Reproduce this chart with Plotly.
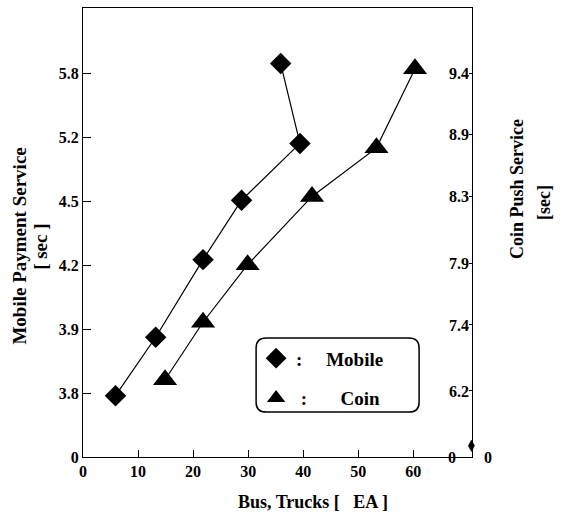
import plotly.graph_objects as go

# Data (x in EA; y as positions on the evenly spaced tick scale)
mobile_x = [5.9, 13.2, 21.8, 28.8, 39.4, 35.9]
mobile_level = [0.96, 1.875, 3.09, 4.02, 4.91, 6.16]
coin_x = [14.9, 21.8, 29.9, 41.6, 53.3, 60.3]
coin_level = [1.21, 2.11, 3.01, 4.08, 4.84, 6.08]

left_tick_pos = [0, 1, 2, 3, 4, 5, 6]
left_tick_text = ["0", "3.8", "3.9", "4.2", "4.5", "5.2", "5.8"]
right_tick_pos = [0, 1.034, 2.068, 3.024, 4.073, 5.045, 6.0]
right_tick_text = ["0", "6.2", "7.4", "7.9", "8.3", "8.9", "9.4"]
x_ticks = [0, 10, 20, 30, 40, 50, 60]

SERIF = "Liberation Serif"
NB = "\u00a0"

fig = go.Figure()
fig.add_trace(go.Scatter(
    x=mobile_x, y=mobile_level, mode="lines+markers",
    line=dict(color="black", width=1.2),
    marker=dict(symbol="diamond", size=16.5, color="black"),
    showlegend=False, yaxis="y"))
fig.add_trace(go.Scatter(
    x=coin_x, y=coin_level, mode="lines+markers",
    line=dict(color="black", width=1.2),
    marker=dict(symbol="triangle-up", size=21, color="black"),
    showlegend=False, yaxis="y2"))
# legend-only entries
fig.add_trace(go.Scatter(
    x=[None], y=[None], mode="markers", name=":" + NB * 5 + "Mobile",
    marker=dict(symbol="diamond", size=16, color="black"), legendgroup="a"))
fig.add_trace(go.Scatter(
    x=[None], y=[None], mode="markers", name=NB + ":" + NB * 7 + "Coin",
    marker=dict(symbol="triangle-up", size=16, color="black"), legendgroup="b"))

yr = [0, 7.03]
tf = dict(family=SERIF, size=16, weight="bold", color="black")
fig.update_layout(
    width=562, height=516,
    margin=dict(l=83, r=90, t=8, b=59),
    paper_bgcolor="white", plot_bgcolor="white",
    font=dict(family=SERIF, color="black", size=16, weight="bold"),
    xaxis=dict(range=[0, 70.65], tickvals=x_ticks, ticks="inside", ticklen=7,
               tickcolor="black", showline=True, linecolor="black", linewidth=1.2,
               mirror=True, showgrid=False, zeroline=False, tickfont=tf),
    yaxis=dict(range=yr, tickvals=left_tick_pos, ticktext=left_tick_text,
               ticks="inside", ticklen=8, tickcolor="black", showline=True,
               linecolor="black", linewidth=1.2, showgrid=False, zeroline=False,
               tickfont=tf),
    yaxis2=dict(range=yr, tickvals=right_tick_pos, ticktext=right_tick_text,
                overlaying="y", side="right", ticks="inside", ticklen=3,
                ticklabelposition="inside", tickcolor="black", showline=True,
                linecolor="black", linewidth=1.2, showgrid=False, zeroline=False,
                tickfont=tf),
    yaxis3=dict(range=yr, tickvals=right_tick_pos, overlaying="y", side="right",
                ticks="outside", ticklen=3, tickcolor="black", showticklabels=False,
                showline=False, showgrid=False, zeroline=False),
    legend=dict(x=0.445, y=0.262, xanchor="left", yanchor="top",
                bgcolor="rgba(0,0,0,0)", borderwidth=0,
                font=dict(family=SERIF, size=19, weight="bold"),
                tracegroupgap=12, traceorder="grouped", itemsizing="trace"),
    showlegend=True,
)

# rounded legend border
x0, x1, y0, y1 = 0.445, 0.864, 0.1, 0.265
rx, ry = 0.026, 0.022
path = (f"M{x0+rx},{y1} L{x1-rx},{y1} Q{x1},{y1} {x1},{y1-ry} "
        f"L{x1},{y0+ry} Q{x1},{y0} {x1-rx},{y0} L{x0+rx},{y0} "
        f"Q{x0},{y0} {x0},{y0+ry} L{x0},{y1-ry} Q{x0},{y1} {x0+rx},{y1} Z")
fig.add_shape(type="path", path=path, xref="paper", yref="paper",
              line=dict(color="black", width=1.5))
# small stray mark near the bottom-right corner
fig.add_shape(type="path", xref="paper", yref="paper",
              path="M0.9985,0.038 L1.0065,0.025 L0.9985,0.012 L0.9905,0.025 Z",
              fillcolor="black", line=dict(color="black", width=0.5))


def label(text, x, y, size, angle=0):
    fig.add_annotation(text=text, x=x, y=y, xref="paper", yref="paper",
                       xanchor="center", yanchor="middle", showarrow=False,
                       textangle=angle,
                       font=dict(family=SERIF, size=size, weight="bold", color="black"))


label("Mobile Payment Service", -0.163, 0.47, 19, -90)
label("[ sec ]", -0.108, 0.468, 19, -90)
label("Coin Push Service", 1.1157, 0.597, 18, -90)
label("[sec]", 1.185, 0.568, 18, -90)
label("Bus, Trucks [" + NB * 3 + "EA ]", 0.591, -0.1, 18)
# right-axis zero label (inside) and the stray zero beyond the corner
label(right_tick_text[0], 0.948, 0.0, 16)
label("0", 1.042, 0.0, 16)

fig.write_html("out.html", post_script="document.body.style.margin='0';",
               config={"displayModeBar": False})
